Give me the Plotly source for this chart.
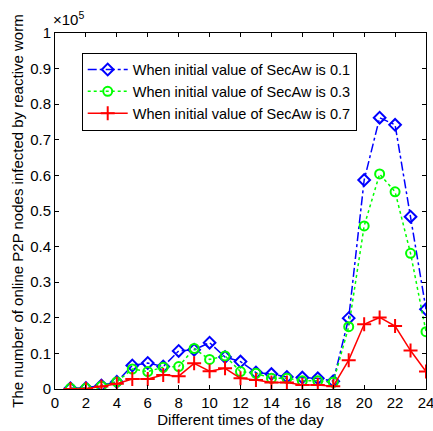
import plotly.graph_objects as go

hours = list(range(1, 25))
secaw_01 = [0.002, 0.003, 0.010, 0.020, 0.066, 0.073, 0.063, 0.107, 0.110, 0.130, 0.090, 0.077,
            0.046, 0.042, 0.034, 0.032, 0.030, 0.022, 0.199, 0.587, 0.762, 0.742, 0.484, 0.224]
secaw_03 = [0.002, 0.002, 0.008, 0.020, 0.056, 0.049, 0.061, 0.063, 0.114, 0.083, 0.093, 0.049,
            0.044, 0.030, 0.030, 0.023, 0.023, 0.019, 0.175, 0.458, 0.604, 0.554, 0.381, 0.161]
secaw_07 = [0.000, 0.001, 0.007, 0.015, 0.028, 0.028, 0.039, 0.036, 0.072, 0.050, 0.058, 0.030,
            0.025, 0.018, 0.018, 0.011, 0.011, 0.008, 0.081, 0.182, 0.201, 0.177, 0.108, 0.049]
series_names = ["When initial value of SecAw is 0.1",
                "When initial value of SecAw is 0.3",
                "When initial value of SecAw is 0.7"]
x_ticks = list(range(0, 25, 2))
y_ticks = [round(0.1 * i, 1) for i in range(11)]
y_tick_labels = ["0"] + [f"{v:.1f}" for v in y_ticks[1:-1]] + ["1"]

font = "Liberation Sans, Arial, sans-serif"
fig = go.Figure()
fig.add_trace(go.Scatter(x=hours, y=secaw_01, name=series_names[0], mode="lines+markers",
                         line=dict(color="#0000ff", width=1.5, dash="dashdot"),
                         marker=dict(symbol="diamond-open", size=9, color="#0000ff", line=dict(width=2))))
fig.add_trace(go.Scatter(x=hours, y=secaw_03, name=series_names[1], mode="lines+markers",
                         line=dict(color="#00ff00", width=1.5, dash="dot"),
                         marker=dict(symbol="circle-open", size=9, color="#00ff00", line=dict(width=2))))
fig.add_trace(go.Scatter(x=hours, y=secaw_07, name=series_names[2], mode="lines+markers",
                         line=dict(color="#ff0000", width=1.5),
                         marker=dict(symbol="cross-thin-open", size=10, color="#ff0000", line=dict(width=2, color="#ff0000"))))

axis_common = dict(showline=True, linecolor="black", linewidth=1, mirror="ticks",
                   ticks="inside", ticklen=4, tickcolor="black", showgrid=False, zeroline=False,
                   automargin=False, ticklabeloverflow="allow",
                   tickfont=dict(family=font, size=15, color="black"))
fig.update_xaxes(range=[0, 24], tickvals=x_ticks, **axis_common,
                 title=dict(text="Different times of the day", font=dict(family=font, size=15, color="black"), standoff=4))
fig.update_yaxes(range=[0, 1], tickvals=y_ticks, ticktext=y_tick_labels, **axis_common,
                 title=dict(text="The number of online P2P nodes infected by reactive worm",
                            font=dict(family=font, size=15, color="black"), standoff=2))
fig.add_annotation(x=0, y=1, xref="paper", yref="paper", xanchor="left", yanchor="bottom",
                   text="×10<sup>5</sup>", showarrow=False, yshift=3, xshift=-4,
                   font=dict(family=font, size=15, color="black"))
fig.update_layout(
    width=433, height=431, margin=dict(l=55, r=7, t=33, b=42),
    plot_bgcolor="white", paper_bgcolor="white",
    legend=dict(x=0.072, y=0.945, xanchor="left", yanchor="top", bgcolor="white",
                bordercolor="black", borderwidth=1, font=dict(family=font, size=14.5, color="black"),
                tracegroupgap=0, itemwidth=40),
)
fig.write_html("out.html", config={"displayModeBar": False},
               post_script="document.body.style.margin='0';")
